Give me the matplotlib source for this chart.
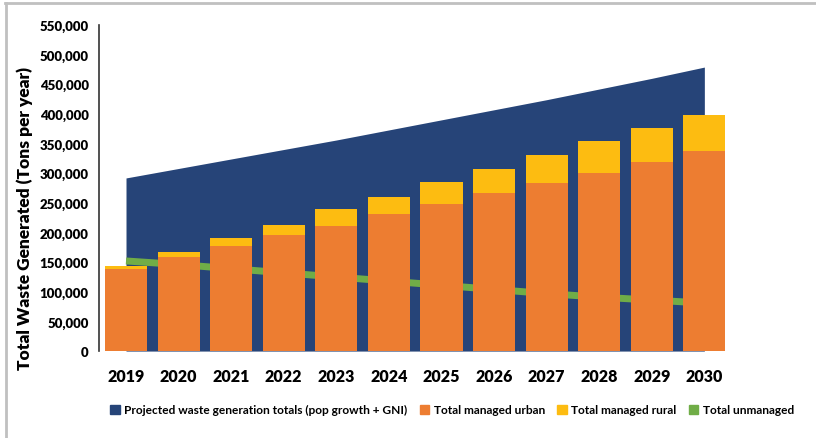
import matplotlib
matplotlib.use("Agg")
import matplotlib.pyplot as plt
from matplotlib.patches import Patch
from matplotlib.lines import Line2D
from matplotlib.ticker import FuncFormatter, MultipleLocator
import numpy as np

years = ["2019", "2020", "2021", "2022", "2023", "2024", "2025", "2026", "2027", "2028", "2029", "2030"]
projected = [292000, 308000, 324000, 340000, 356000, 373000, 390000, 407000, 424000, 442000, 460000, 479000]
urban = [138000, 159000, 177000, 196000, 211000, 231000, 248000, 267000, 284000, 301000, 319000, 338000]
rural = [5000, 8000, 14000, 17000, 29000, 29000, 37000, 40000, 47000, 54000, 58000, 61000]
unmanaged = [152000, 146000, 139000, 132000, 125000, 118000, 111000, 104000, 97000, 91000, 86000, 81000]

C_BLUE = "#264478"
C_ORANGE = "#ed7d31"
C_YELLOW = "#fdbc11"
C_GREEN = "#70ad47"

FONT = ["Lato", "DejaVu Sans"]
plt.rcParams["font.family"] = FONT

fig = plt.figure(figsize=(8.16, 4.39), dpi=100)
ax = fig.add_axes([0.1213, 0.198, 0.775, 0.7428])

x = np.arange(len(years))
ax.fill_between(x, 0, projected, color=C_BLUE, linewidth=0, zorder=1)
ax.plot(x, unmanaged, color=C_GREEN, linewidth=5, zorder=2, solid_capstyle="butt")
ax.bar(x, urban, width=0.8, color=C_ORANGE, zorder=3)
ax.bar(x, rural, width=0.8, bottom=urban, color=C_YELLOW, zorder=3)

ax.set_xlim(-0.514, 11.514)
ax.set_ylim(0, 550000)
ax.yaxis.set_major_locator(MultipleLocator(50000))
ax.yaxis.set_major_formatter(FuncFormatter(lambda v, p: f"{int(v):,}"))
ax.set_xticks(x)
ax.set_xticklabels(years)

for s in ["top", "right", "bottom"]:
    ax.spines[s].set_visible(False)
ax.spines["left"].set_color("#333333")
ax.spines["left"].set_linewidth(1.2)
ax.tick_params(axis="y", length=0, pad=7.5, labelsize=9.5)
ax.tick_params(axis="x", length=0, pad=12, labelsize=11.5)
for lab in ax.get_yticklabels() + ax.get_xticklabels():
    lab.set_fontweight("heavy")

ax.set_ylabel("Total Waste Generated (Tons per year)", fontsize=12.5, fontweight="heavy", labelpad=4)
ax.yaxis.set_label_coords(-0.104, 0.41)

handles = [
    Patch(color=C_BLUE, label="Projected waste generation totals (pop growth + GNI)"),
    Patch(color=C_ORANGE, label="Total managed urban"),
    Patch(color=C_YELLOW, label="Total managed rural"),
    Patch(color=C_GREEN, label="Total unmanaged"),
]
leg = fig.legend(handles=handles, loc="center", bbox_to_anchor=(0.554, 0.064), ncol=4,
                 frameon=False, handlelength=0.8, handleheight=0.8, handletextpad=0.4,
                 columnspacing=1.0, prop={"weight": "bold", "size": 8.6})

# light grey frame (top and left)
fig.add_artist(Line2D([0.006, 0.999], [0.99, 0.99], transform=fig.transFigure, color="#c0c0c0", linewidth=2))
fig.add_artist(Line2D([0.007, 0.007], [0.0, 0.99], transform=fig.transFigure, color="#c0c0c0", linewidth=2))

fig.savefig("out.png", dpi=100)
